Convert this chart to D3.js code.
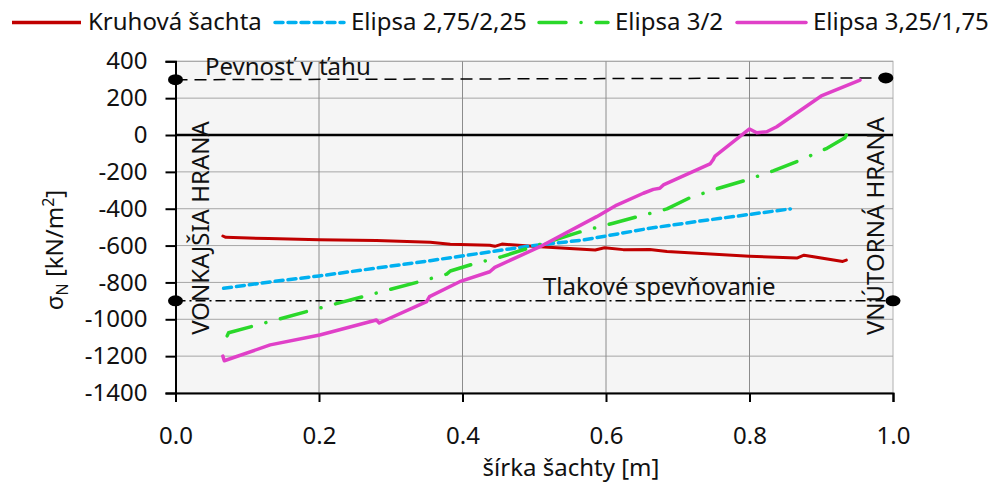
<!DOCTYPE html>
<html><head><meta charset="utf-8">
<script src="https://cdn.jsdelivr.net/npm/d3@7"></script>
<style>body{margin:0;background:#fff} text{font-family:"Noto Sans",sans-serif;fill:#111}</style>
</head><body>
<svg id="c" width="995" height="489"></svg>
<script>
const xTicks = [0, 0.2, 0.4, 0.6, 0.8, 1.0];
const yTicks = [400, 200, 0, -200, -400, -600, -800, -1000, -1200, -1400];
const names = ["Kruhová šachta", "Elipsa 2,75/2,25", "Elipsa 3/2", "Elipsa 3,25/1,75"];
const kruhova = [[0.066,-548],[0.07,-555],[0.13,-562],[0.2,-568],[0.28,-573],[0.355,-582],[0.383,-593],[0.438,-598],[0.445,-604],[0.455,-592],[0.508,-606],[0.585,-624],[0.598,-612],[0.624,-622],[0.661,-621],[0.685,-632],[0.8,-658],[0.866,-668],[0.876,-652],[0.93,-686],[0.935,-679]];
const elipsa1 = [[0.067,-832],[0.132,-797],[0.2,-765],[0.355,-682],[0.494,-602],[0.568,-570],[0.661,-506],[0.731,-467],[0.857,-401]];
const elipsa2 = [[0.072,-1090],[0.074,-1073],[0.2,-940],[0.34,-796],[0.378,-755],[0.383,-738],[0.415,-700],[0.455,-660],[0.494,-611],[0.568,-521],[0.61,-479],[0.647,-440],[0.685,-401],[0.717,-340],[0.757,-289],[0.796,-244],[0.833,-195],[0.871,-136],[0.908,-72],[0.933,-15],[0.935,0]];
const elipsa3 = [[0.066,-1200],[0.068,-1225],[0.132,-1139],[0.201,-1085],[0.28,-1004],[0.284,-1020],[0.35,-904],[0.354,-877],[0.396,-796],[0.438,-742],[0.445,-718],[0.508,-606],[0.587,-443],[0.615,-380],[0.652,-316],[0.666,-295],[0.675,-289],[0.68,-271],[0.745,-157],[0.749,-136],[0.752,-114],[0.8,33],[0.81,12],[0.824,18],[0.838,45],[0.9,212],[0.954,298]];
const pevnost = [[0,300],[0.99,310]];
const tlakove = [[0,-900],[1.0,-900]];

const colors = ["#c00000", "#00b0f0", "#2ad82a", "#e040c8"];
const dashes = [null, "8,5", "27,15,0.1,15", null];
const seriesData = [kruhova, elipsa1, elipsa2, elipsa3];

const svg = d3.select("#c");
const L = 175.5, R = 893, T = 61.3, B = 393;
const x = d3.scaleLinear().domain([0, 1]).range([L, R]);
const y = d3.scaleLinear().domain([-1400, 400]).range([B, T]);
const FS = 24;

// plot background
svg.append("rect").attr("x", L).attr("y", T).attr("width", R - L).attr("height", B - T)
  .attr("fill", "#f5f5f5").attr("stroke", "#b0b0b0").attr("stroke-width", 1);

// gridlines
svg.append("g").selectAll("line").data(yTicks).join("line")
  .attr("x1", L).attr("x2", R).attr("y1", d => y(d)).attr("y2", d => y(d))
  .attr("stroke", "#a6a6a6").attr("stroke-width", 1);
svg.append("g").selectAll("line").data(xTicks.slice(1, -1)).join("line")
  .attr("y1", T).attr("y2", B).attr("x1", d => x(d)).attr("x2", d => x(d))
  .attr("stroke", "#8c8c8c").attr("stroke-width", 1);

// zero line
svg.append("line").attr("x1", L).attr("x2", R).attr("y1", y(0)).attr("y2", y(0))
  .attr("stroke", "#000").attr("stroke-width", 2.5);

// axes
const yAxis = svg.append("g").attr("transform", `translate(${L},0)`)
  .call(d3.axisLeft(y).tickValues(yTicks).tickSize(10).tickPadding(18).tickFormat(d => String(d)));
const xAxis = svg.append("g").attr("transform", `translate(0,${B})`)
  .call(d3.axisBottom(x).tickValues(xTicks).tickSize(9).tickPadding(25).tickFormat(d3.format(".1f")));
[yAxis, xAxis].forEach(a => {
  a.select(".domain").attr("stroke", "#000").attr("stroke-width", 2);
  a.selectAll(".tick line").attr("stroke", "#000").attr("stroke-width", 2);
  a.selectAll(".tick text").attr("font-size", FS).attr("font-family", "Noto Sans").attr("fill", "#111");
});

const line = d3.line().x(d => x(d[0])).y(d => y(d[1]));

// reference lines
svg.append("path").datum(pevnost).attr("d", line).attr("fill", "none")
  .attr("stroke", "#000").attr("stroke-width", 1.5).attr("stroke-dasharray", "12,7");
svg.append("path").datum(tlakove).attr("d", line).attr("fill", "none")
  .attr("stroke", "#000").attr("stroke-width", 1.5).attr("stroke-dasharray", "10,4,2,4");

// dots
const dotPts = [pevnost[0], pevnost[1], tlakove[0], tlakove[1]];
svg.append("g").selectAll("ellipse").data(dotPts).join("ellipse")
  .attr("cx", d => x(d[0])).attr("cy", d => y(d[1])).attr("rx", 7.5).attr("ry", 5.5).attr("fill", "#000");

// series
seriesData.forEach((s, i) => {
  svg.append("path").datum(s).attr("d", line).attr("fill", "none")
    .attr("stroke", colors[i]).attr("stroke-width", i === 0 ? 3 : 3.5)
    .attr("stroke-linecap", "round").attr("stroke-linejoin", "round")
    .attr("stroke-dasharray", dashes[i]);
});

// annotations
svg.append("text").attr("x", 205).attr("y", 75).attr("font-size", FS).text("Pevnosť v ťahu");
svg.append("text").attr("x", 543).attr("y", 295).attr("font-size", FS).text("Tlakové spevňovanie");
svg.append("text").attr("transform", `translate(209,228) rotate(-90)`).attr("text-anchor", "middle")
  .attr("font-size", FS).text("VONKAJŠIA HRANA");
svg.append("text").attr("transform", `translate(884,226) rotate(-90)`).attr("text-anchor", "middle")
  .attr("font-size", FS).text("VNÚTORNÁ HRANA");

// axis titles
svg.append("text").attr("x", 571).attr("y", 476).attr("text-anchor", "middle")
  .attr("font-size", FS).text("šírka šachty [m]");
const yt = svg.append("text").attr("transform", `translate(63,250) rotate(-90)`).attr("text-anchor", "middle")
  .attr("font-size", FS);
yt.append("tspan").text("σ");
yt.append("tspan").attr("font-size", 16).attr("dy", 5).text("N");
yt.append("tspan").attr("dy", -5).text(" [kN/m");
yt.append("tspan").attr("font-size", 16).attr("dy", -9).text("2");
yt.append("tspan").attr("dy", 9).text("]");

// legend
const legX = [12, 275, 539, 737];
const lg = svg.append("g");
names.forEach((n, i) => {
  lg.append("line").attr("x1", legX[i]).attr("x2", legX[i] + 69).attr("y1", 22.5).attr("y2", 22.5)
    .attr("stroke", colors[i]).attr("stroke-width", 3.5).attr("stroke-linecap", i === 0 ? "butt" : "round")
    .attr("stroke-dasharray", dashes[i]);
  lg.append("text").attr("x", legX[i] + 76).attr("y", 30).attr("font-size", FS).text(n);
});
</script>
</body></html>
